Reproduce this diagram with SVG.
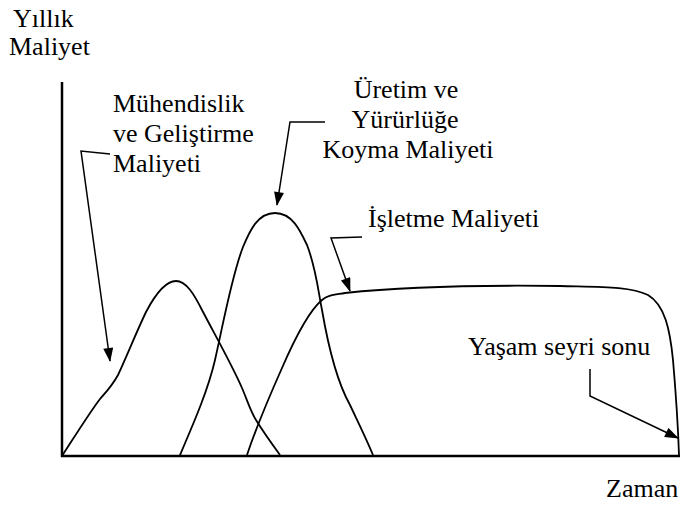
<svg xmlns="http://www.w3.org/2000/svg" width="680" height="506" viewBox="0 0 680 506">
<style>
.axis{stroke:#000;stroke-width:2.5;fill:none}
.curve{stroke:#000;stroke-width:1.8;fill:none}
.lead{stroke:#000;stroke-width:1.5;fill:none;marker-end:url(#ah)}
</style>
<defs>
<marker id="ah" viewBox="0 0 14 10" refX="13" refY="5" markerWidth="15" markerHeight="10" markerUnits="userSpaceOnUse" orient="auto">
<path d="M0,0 L14,5 L0,10 Z" fill="#000"/>
</marker>
</defs>
<rect width="680" height="506" fill="#fff"/>
<g id="axes">
<line class="axis" x1="62" y1="82" x2="62" y2="457"/>
<line class="axis" x1="61" y1="456" x2="680" y2="456"/>
</g>
<g id="curves">
<path id="curve-eng" class="curve" d="M62,456 C75,436 90,412 100,399 C107,391 112,386 118,375 C126,358 136,333 146,312 C156,293 166,281 176,281 C186,281 194,294 202,310 C215,335 232,365 242,388 C248,402 250,410 256,420 C264,433 272,444 280,455"/>
<path id="curve-prod" class="curve" d="M180,455 C195,420 208,390 215,360 C224,320 232,275 243,247 C250,230 258,213 275,213 C292,213 300,230 307,245 C316,268 318,290 322,310 C328,345 336,380 350,405 C358,422 366,438 373,455"/>
<path id="curve-op" class="curve" d="M247,455 C256,428 270,395 282,368 C295,338 310,310 322,300 C328,295 334,295 345,293 C400,287 480,285 560,286 C600,287 630,286 648,295 C665,305 670,330 673,360 C676,395 678,425 679,455"/>
</g>
<g id="connectors">
<polyline class="lead" points="110,154 81,151 110,361"/>
<polyline class="lead" points="325,122 290,122 277,205"/>
<polyline class="lead" points="362,237 331,238 350,291"/>
<polyline class="lead" points="590,369 590,396 678,438"/>
</g>
<g font-family="Liberation Serif, serif" font-size="26" fill="#000">
<g id="ylabel"><text x="13" y="27">Yıllık</text><text x="9" y="55">Maliyet</text></g>
<g id="eng"><text x="113" y="112">Mühendislik</text><text x="113" y="142">ve Geliştirme</text><text x="113" y="172">Maliyeti</text></g>
<g id="prod" text-anchor="middle"><text x="406" y="98">Üretim ve</text><text x="405" y="128">Yürürlüğe</text><text x="408" y="158">Koyma Maliyeti</text></g>
<g id="op"><text x="368" y="227">İşletme Maliyeti</text></g>
<g id="end"><text x="468" y="355">Yaşam seyri sonu</text></g>
<g id="xlabel"><text x="606" y="497">Zaman</text></g>
</g>
</svg>
